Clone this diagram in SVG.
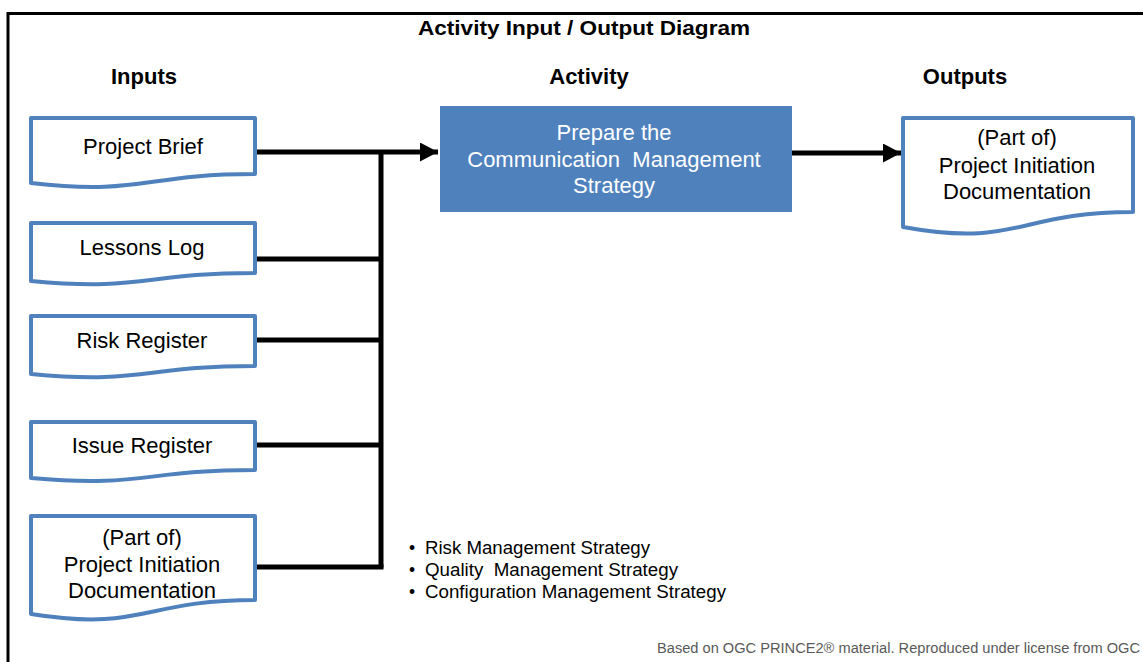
<svg xmlns="http://www.w3.org/2000/svg" width="1143" height="662" viewBox="0 0 1143 662">
<style>
.doc{fill:#fff;stroke:#4F81BD;stroke-width:4;stroke-linejoin:round}
.t{font-family:"Liberation Sans",Arial,sans-serif;font-size:22px;fill:#000;text-anchor:middle}
.h{font-family:"Liberation Sans",Arial,sans-serif;font-size:22px;font-weight:bold;fill:#000;text-anchor:middle}
.w{fill:#fff}
.b{font-family:"Liberation Sans",Arial,sans-serif;font-size:17.5px;fill:#000}
.c{fill:none;stroke:#000;stroke-width:5}
.foot{font-family:"Liberation Sans",Arial,sans-serif;font-size:14px;fill:#595959}
</style>
<defs>
<marker id="ah" markerUnits="userSpaceOnUse" markerWidth="20" markerHeight="20" refX="18" refY="9.5" orient="auto" viewBox="0 0 20 20">
<path d="M0,0 L18,9.5 L0,19 Z" fill="#000"/>
</marker>
</defs>
<rect x="0" y="0" width="1143" height="662" fill="#fff"/>
<path d="M8,662 V13.5 H1150" fill="none" stroke="#000" stroke-width="3"/>
<text class="h" x="584" y="35" style="font-size:20px" textLength="332" lengthAdjust="spacingAndGlyphs">Activity Input / Output Diagram</text>
<text class="h" x="144" y="84">Inputs</text>
<text class="h" x="589" y="84">Activity</text>
<text class="h" x="965" y="84">Outputs</text>

<g id="connectors">
<path class="c" d="M255,152 H438" marker-end="url(#ah)"/>
<path class="c" d="M381,152 V567.5"/>
<path class="c" d="M255,259 H381"/>
<path class="c" d="M255,340 H381"/>
<path class="c" d="M255,445 H381"/>
<path class="c" d="M255,567 H383.5"/>
<path class="c" d="M792,153 H901" marker-end="url(#ah)"/>
</g>

<g id="in-project-brief">
<path class="doc" d="M31,118 H255 V174 C143,174 143,195.5 31,183 Z"/>
<text class="t" x="143" y="154">Project Brief</text>
</g>
<g id="in-lessons-log">
<path class="doc" d="M31,223 H255 V273 C143,273 143,291.5 31,281 Z"/>
<text class="t" x="142" y="255">Lessons Log</text>
</g>
<g id="in-risk-register">
<path class="doc" d="M31,316 H255 V366 C143,366 143,384.5 31,374 Z"/>
<text class="t" x="142" y="348">Risk Register</text>
</g>
<g id="in-issue-register">
<path class="doc" d="M31,422 H255 V470 C143,470 143,488 31,478 Z"/>
<text class="t" x="142" y="453">Issue Register</text>
</g>
<g id="in-pid">
<path class="doc" d="M31,516 H255 V600 C143,600 143,632 31,614 Z"/>
<text class="t" x="142" y="545">(Part of)</text>
<text class="t" x="142" y="572">Project Initiation</text>
<text class="t" x="142" y="598">Documentation</text>
</g>

<g id="activity">
<rect x="440" y="106" width="352" height="106" fill="#4F81BD"/>
<text class="t w" x="614" y="140">Prepare the</text>
<text class="t w" x="614" y="167" xml:space="preserve">Communication  Management</text>
<text class="t w" x="614" y="193">Strategy</text>
</g>

<g id="out-pid">
<path class="doc" d="M903,118 H1133 V212 C1018,212 1018,248 903,227 Z"/>
<text class="t" x="1017" y="145">(Part of)</text>
<text class="t" x="1017" y="173">Project Initiation</text>
<text class="t" x="1017" y="199">Documentation</text>
</g>

<g id="notes">
<text class="b" x="409" y="554">•</text>
<text class="b" x="425" y="554" textLength="225" lengthAdjust="spacingAndGlyphs">Risk Management Strategy</text>
<text class="b" x="409" y="576">•</text>
<text class="b" x="425" y="576" xml:space="preserve" textLength="253" lengthAdjust="spacingAndGlyphs">Quality  Management Strategy</text>
<text class="b" x="409" y="598">•</text>
<text class="b" x="425" y="598" textLength="301" lengthAdjust="spacingAndGlyphs">Configuration Management Strategy</text>
</g>
<text class="foot" x="657" y="653" textLength="483" lengthAdjust="spacingAndGlyphs">Based on OGC PRINCE2® material. Reproduced under license from OGC</text>
</svg>
